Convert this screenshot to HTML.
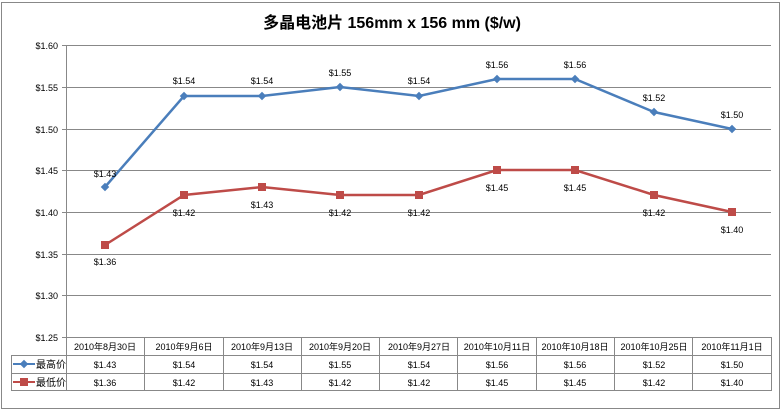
<!DOCTYPE html>
<html><head><meta charset="utf-8"><style>
body{margin:0;background:#fff;}
svg text{font-family:"Liberation Sans","Noto Sans CJK SC",sans-serif;}
</style></head><body>
<svg width="784" height="414" xmlns="http://www.w3.org/2000/svg">
<rect x="1.5" y="2.5" width="778" height="406" fill="#fff" stroke="#888" stroke-width="1"/>
<text x="392" y="28" text-anchor="middle" font-size="16" font-weight="bold">多晶电池片 156mm x 156 mm ($/w)</text>
<g stroke="#888" stroke-width="1">
<line x1="62" y1="45.5" x2="771" y2="45.5"/>
<line x1="62" y1="87.5" x2="771" y2="87.5"/>
<line x1="62" y1="129.5" x2="771" y2="129.5"/>
<line x1="62" y1="170.5" x2="771" y2="170.5"/>
<line x1="62" y1="212.5" x2="771" y2="212.5"/>
<line x1="62" y1="254.5" x2="771" y2="254.5"/>
<line x1="62" y1="295.5" x2="771" y2="295.5"/>
<line x1="62" y1="337.5" x2="771" y2="337.5"/>
<line x1="66.5" y1="45" x2="66.5" y2="391"/>
<line x1="11.5" y1="355.5" x2="771" y2="355.5"/>
<line x1="11.5" y1="373.5" x2="771" y2="373.5"/>
<line x1="11.5" y1="390.5" x2="771" y2="390.5"/>
<line x1="11.5" y1="355" x2="11.5" y2="391"/>
<line x1="144.5" y1="337" x2="144.5" y2="391"/>
<line x1="223.5" y1="337" x2="223.5" y2="391"/>
<line x1="301.5" y1="337" x2="301.5" y2="391"/>
<line x1="379.5" y1="337" x2="379.5" y2="391"/>
<line x1="457.5" y1="337" x2="457.5" y2="391"/>
<line x1="536.5" y1="337" x2="536.5" y2="391"/>
<line x1="614.5" y1="337" x2="614.5" y2="391"/>
<line x1="692.5" y1="337" x2="692.5" y2="391"/>
<line x1="771.5" y1="337" x2="771.5" y2="391"/>
</g>
<g font-size="9" text-anchor="end">
<text x="58" y="49">$1.60</text><text x="58" y="91">$1.55</text><text x="58" y="133">$1.50</text>
<text x="58" y="174">$1.45</text><text x="58" y="216">$1.40</text><text x="58" y="258">$1.35</text>
<text x="58" y="299">$1.30</text><text x="58" y="341">$1.25</text>
</g>
<g font-size="9" text-anchor="middle">
<text x="105" y="350">2010年8月30日</text><text x="184" y="350">2010年9月6日</text><text x="262" y="350">2010年9月13日</text>
<text x="340" y="350">2010年9月20日</text><text x="419" y="350">2010年9月27日</text><text x="497" y="350">2010年10月11日</text>
<text x="575" y="350">2010年10月18日</text><text x="654" y="350">2010年10月25日</text><text x="732" y="350">2010年11月1日</text>
<text x="105" y="368">$1.43</text><text x="184" y="368">$1.54</text><text x="262" y="368">$1.54</text><text x="340" y="368">$1.55</text><text x="419" y="368">$1.54</text><text x="497" y="368">$1.56</text><text x="575" y="368">$1.56</text><text x="654" y="368">$1.52</text><text x="732" y="368">$1.50</text>
<text x="105" y="386">$1.36</text><text x="184" y="386">$1.42</text><text x="262" y="386">$1.43</text><text x="340" y="386">$1.42</text><text x="419" y="386">$1.42</text><text x="497" y="386">$1.45</text><text x="575" y="386">$1.45</text><text x="654" y="386">$1.42</text><text x="732" y="386">$1.40</text>
</g>
<line x1="13" y1="364" x2="35" y2="364" stroke="#4a7ebb" stroke-width="2"/>
<rect x="21" y="361" width="6" height="6" fill="#4a7ebb" transform="rotate(45 24 364)"/>
<text x="36" y="368" font-size="10">最高价</text>
<line x1="13" y1="382" x2="35" y2="382" stroke="#be4b48" stroke-width="2"/>
<rect x="20" y="378" width="8" height="8" fill="#be4b48"/>
<text x="36" y="386" font-size="10">最低价</text>
<polyline fill="none" stroke="#4a7ebb" stroke-width="2.5" points="105,187 184,96 262,96 340,87 419,96 497,79 575,79 654,112 732,129"/>
<g fill="#4a7ebb">
<rect x="102" y="184" width="6" height="6" transform="rotate(45 105 187)"/>
<rect x="181" y="93" width="6" height="6" transform="rotate(45 184 96)"/>
<rect x="259" y="93" width="6" height="6" transform="rotate(45 262 96)"/>
<rect x="337" y="84" width="6" height="6" transform="rotate(45 340 87)"/>
<rect x="416" y="93" width="6" height="6" transform="rotate(45 419 96)"/>
<rect x="494" y="76" width="6" height="6" transform="rotate(45 497 79)"/>
<rect x="572" y="76" width="6" height="6" transform="rotate(45 575 79)"/>
<rect x="651" y="109" width="6" height="6" transform="rotate(45 654 112)"/>
<rect x="729" y="126" width="6" height="6" transform="rotate(45 732 129)"/>
</g>
<polyline fill="none" stroke="#be4b48" stroke-width="2.5" points="105,245 184,195 262,187 340,195 419,195 497,170 575,170 654,195 732,212"/>
<g fill="#be4b48">
<rect x="101" y="241" width="8" height="8"/><rect x="180" y="191" width="8" height="8"/><rect x="258" y="183" width="8" height="8"/>
<rect x="336" y="191" width="8" height="8"/><rect x="415" y="191" width="8" height="8"/><rect x="493" y="166" width="8" height="8"/>
<rect x="571" y="166" width="8" height="8"/><rect x="650" y="191" width="8" height="8"/><rect x="728" y="208" width="8" height="8"/>
</g>
<g font-size="9" text-anchor="middle">
<text x="105" y="177">$1.43</text><text x="184" y="84">$1.54</text><text x="262" y="84">$1.54</text><text x="340" y="76">$1.55</text><text x="419" y="84">$1.54</text><text x="497" y="68">$1.56</text><text x="575" y="68">$1.56</text><text x="654" y="101">$1.52</text><text x="732" y="118">$1.50</text>
<text x="105" y="265">$1.36</text><text x="184" y="216">$1.42</text><text x="262" y="208">$1.43</text><text x="340" y="216">$1.42</text><text x="419" y="216">$1.42</text><text x="497" y="191">$1.45</text><text x="575" y="191">$1.45</text><text x="654" y="216">$1.42</text><text x="732" y="233">$1.40</text>
</g>
</svg>
</body></html>
